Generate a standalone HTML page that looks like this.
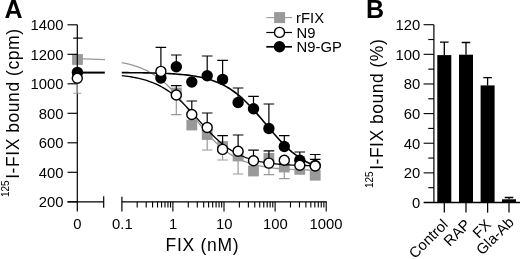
<!DOCTYPE html>
<html><head><meta charset="utf-8"><title>Figure</title>
<style>html,body{margin:0;padding:0;background:#fff}svg{display:block;filter:blur(0.3px)}</style></head>
<body><svg width="520" height="259" viewBox="0 0 520 259">
<rect width="520" height="259" fill="#fff"/>
<path d="M77.3,58.6 L105,59.6" stroke="#999999" stroke-width="1.1" fill="none"/>
<path d="M121.8,62.68 L123.8,63.06 L125.8,63.47 L127.8,63.92 L129.8,64.41 L131.8,64.94 L133.8,65.52 L135.8,66.15 L137.8,66.83 L139.8,67.56 L141.8,68.36 L143.8,69.22 L145.8,70.15 L147.8,71.14 L149.8,72.22 L151.8,73.37 L153.8,74.60 L155.8,75.92 L157.8,77.32 L159.8,78.82 L161.8,80.41 L163.8,82.09 L165.8,83.86 L167.8,85.72 L169.8,87.68 L171.8,89.73 L173.8,91.86 L175.8,94.08 L177.8,96.37 L179.8,98.73 L181.8,101.16 L183.8,103.64 L185.8,106.17 L187.8,108.73 L189.8,111.31 L191.8,113.92 L193.8,116.52 L195.8,119.12 L197.8,121.69 L199.8,124.24 L201.8,126.74 L203.8,129.20 L205.8,131.59 L207.8,133.92 L209.8,136.18 L211.8,138.35 L213.8,140.45 L215.8,142.45 L217.8,144.36 L219.8,146.18 L221.8,147.91 L223.8,149.54 L225.8,151.09 L227.8,152.54 L229.8,153.90 L231.8,155.17 L233.8,156.37 L235.8,157.48 L237.8,158.51 L239.8,159.48 L241.8,160.37 L243.8,161.20 L245.8,161.96 L247.8,162.67 L249.8,163.33 L251.8,163.93 L253.8,164.48 L255.8,165.00 L257.8,165.46 L259.8,165.90 L261.8,166.29 L263.8,166.66 L265.8,166.99 L267.8,167.30 L269.8,167.58 L271.8,167.83 L273.8,168.07 L275.8,168.28 L277.8,168.48 L279.8,168.66 L281.8,168.82 L283.8,168.97 L285.8,169.11 L287.8,169.23 L289.8,169.35 L291.8,169.45 L293.8,169.55 L295.8,169.63 L297.8,169.71 L299.8,169.78 L301.8,169.85 L303.8,169.91 L305.8,169.97 L307.8,170.02 L309.8,170.06 L311.8,170.10 L313.8,170.14 L315.8,170.17 L317.8,170.21" stroke="#999999" stroke-width="1.3" fill="none"/>
<rect x="72.1" y="54.1" width="10.8" height="10.8" fill="#999999"/>
<path d="M176.3,93.0 V114.7 M171.1,114.7 H181.5" stroke="#999999" stroke-width="1.2" fill="none"/>
<rect x="170.9" y="87.6" width="10.8" height="10.8" fill="#999999"/>
<rect x="186.4" y="119.6" width="10.8" height="10.8" fill="#999999"/>
<path d="M207.2,134.5 V150.0 M202.0,150.0 H212.4" stroke="#999999" stroke-width="1.2" fill="none"/>
<rect x="201.8" y="129.1" width="10.8" height="10.8" fill="#999999"/>
<path d="M222.6,146.5 V160.0 M217.4,160.0 H227.8" stroke="#999999" stroke-width="1.2" fill="none"/>
<rect x="217.2" y="141.1" width="10.8" height="10.8" fill="#999999"/>
<path d="M238.1,156.0 V174.0 M232.9,174.0 H243.2" stroke="#999999" stroke-width="1.2" fill="none"/>
<rect x="232.7" y="150.6" width="10.8" height="10.8" fill="#999999"/>
<rect x="248.1" y="165.6" width="10.8" height="10.8" fill="#999999"/>
<path d="M268.9,158.4 V174.7 M263.7,174.7 H274.1" stroke="#999999" stroke-width="1.2" fill="none"/>
<rect x="263.5" y="153.0" width="10.8" height="10.8" fill="#999999"/>
<path d="M284.3,167.0 V178.6 M279.1,178.6 H289.5" stroke="#999999" stroke-width="1.2" fill="none"/>
<rect x="278.9" y="161.6" width="10.8" height="10.8" fill="#999999"/>
<rect x="294.4" y="164.0" width="10.8" height="10.8" fill="#999999"/>
<rect x="309.8" y="169.8" width="10.8" height="10.8" fill="#999999"/>
<path d="M77.3,24.8 V211.5 M67.5,201.8 H103.7 M103.7,196.2 V207.8 M121.9,201.8 H326.8 M121.9,196.8 V211.5" stroke="#000" stroke-width="1.2" fill="none"/>
<path d="M67.5,24.80 H77.3" stroke="#000" stroke-width="1.15"/>
<text x="63.4" y="30.2" font-size="14.8" text-anchor="end" font-family="Liberation Sans, Arial, sans-serif">1400</text>
<path d="M67.5,54.30 H77.3" stroke="#000" stroke-width="1.15"/>
<text x="63.4" y="59.7" font-size="14.8" text-anchor="end" font-family="Liberation Sans, Arial, sans-serif">1200</text>
<path d="M67.5,83.80 H77.3" stroke="#000" stroke-width="1.15"/>
<text x="63.4" y="89.2" font-size="14.8" text-anchor="end" font-family="Liberation Sans, Arial, sans-serif">1000</text>
<path d="M67.5,113.30 H77.3" stroke="#000" stroke-width="1.15"/>
<text x="63.4" y="118.7" font-size="14.8" text-anchor="end" font-family="Liberation Sans, Arial, sans-serif">800</text>
<path d="M67.5,142.80 H77.3" stroke="#000" stroke-width="1.15"/>
<text x="63.4" y="148.2" font-size="14.8" text-anchor="end" font-family="Liberation Sans, Arial, sans-serif">600</text>
<path d="M67.5,172.30 H77.3" stroke="#000" stroke-width="1.15"/>
<text x="63.4" y="177.7" font-size="14.8" text-anchor="end" font-family="Liberation Sans, Arial, sans-serif">400</text>
<path d="M67.5,201.80 H77.3" stroke="#000" stroke-width="1.15"/>
<text x="63.4" y="207.2" font-size="14.8" text-anchor="end" font-family="Liberation Sans, Arial, sans-serif">200</text>
<path d="M137.18,201.8 V207.4 M146.18,201.8 V207.4 M152.57,201.8 V207.4 M157.52,201.8 V207.4 M161.56,201.8 V207.4 M164.98,201.8 V207.4 M167.95,201.8 V207.4 M170.56,201.8 V207.4 M172.90,201.8 V211.5 M188.28,201.8 V207.4 M197.28,201.8 V207.4 M203.67,201.8 V207.4 M208.62,201.8 V207.4 M212.66,201.8 V207.4 M216.08,201.8 V207.4 M219.05,201.8 V207.4 M221.66,201.8 V207.4 M224.00,201.8 V211.5 M239.38,201.8 V207.4 M248.38,201.8 V207.4 M254.77,201.8 V207.4 M259.72,201.8 V207.4 M263.76,201.8 V207.4 M267.18,201.8 V207.4 M270.15,201.8 V207.4 M272.76,201.8 V207.4 M275.10,201.8 V211.5 M290.48,201.8 V207.4 M299.48,201.8 V207.4 M305.87,201.8 V207.4 M310.82,201.8 V207.4 M314.86,201.8 V207.4 M318.28,201.8 V207.4 M321.25,201.8 V207.4 M323.86,201.8 V207.4 M326.20,201.8 V211.5" stroke="#000" stroke-width="1.1" fill="none"/>
<text x="77.3" y="229.2" font-size="14.8" text-anchor="middle" font-family="Liberation Sans, Arial, sans-serif">0</text>
<text x="122.4" y="229.2" font-size="14.8" text-anchor="middle" font-family="Liberation Sans, Arial, sans-serif">0.1</text>
<text x="173.1" y="229.2" font-size="14.8" text-anchor="middle" font-family="Liberation Sans, Arial, sans-serif">1</text>
<text x="224.3" y="229.2" font-size="14.8" text-anchor="middle" font-family="Liberation Sans, Arial, sans-serif">10</text>
<text x="275.3" y="229.2" font-size="14.8" text-anchor="middle" font-family="Liberation Sans, Arial, sans-serif">100</text>
<text x="326" y="229.2" font-size="14.8" text-anchor="middle" font-family="Liberation Sans, Arial, sans-serif">1000</text>
<text x="165.6" y="250.7" font-size="17.5" letter-spacing="0.7" font-family="Liberation Sans, Arial, sans-serif">FIX (nM)</text>
<text transform="translate(19.2,197) rotate(-90)" font-size="17.5" font-family="Liberation Sans, Arial, sans-serif"><tspan font-size="10" dy="-10.3">125</tspan><tspan dy="10.3" dx="1.5" letter-spacing="0.55">I-FIX bound (cpm)</tspan></text>
<text x="4.6" y="18.4" font-size="25" font-weight="bold" font-family="Liberation Sans, Arial, sans-serif">A</text>
<path d="M77.3,72.6 H104.8" stroke="#000" stroke-width="2" fill="none"/>
<path d="M121.8,72.62 L123.8,72.64 L125.8,72.65 L127.8,72.67 L129.8,72.68 L131.8,72.70 L133.8,72.72 L135.8,72.74 L137.8,72.76 L139.8,72.79 L141.8,72.82 L143.8,72.85 L145.8,72.88 L147.8,72.92 L149.8,72.96 L151.8,73.00 L153.8,73.05 L155.8,73.11 L157.8,73.17 L159.8,73.23 L161.8,73.30 L163.8,73.38 L165.8,73.47 L167.8,73.56 L169.8,73.66 L171.8,73.77 L173.8,73.90 L175.8,74.03 L177.8,74.18 L179.8,74.34 L181.8,74.52 L183.8,74.71 L185.8,74.92 L187.8,75.15 L189.8,75.41 L191.8,75.68 L193.8,75.98 L195.8,76.31 L197.8,76.67 L199.8,77.06 L201.8,77.48 L203.8,77.94 L205.8,78.45 L207.8,78.99 L209.8,79.58 L211.8,80.22 L213.8,80.92 L215.8,81.67 L217.8,82.48 L219.8,83.35 L221.8,84.29 L223.8,85.30 L225.8,86.38 L227.8,87.54 L229.8,88.78 L231.8,90.10 L233.8,91.50 L235.8,92.99 L237.8,94.57 L239.8,96.23 L241.8,97.97 L243.8,99.80 L245.8,101.71 L247.8,103.70 L249.8,105.76 L251.8,107.89 L253.8,110.09 L255.8,112.34 L257.8,114.63 L259.8,116.97 L261.8,119.33 L263.8,121.72 L265.8,124.11 L267.8,126.50 L269.8,128.88 L271.8,131.23 L273.8,133.56 L275.8,135.84 L277.8,138.08 L279.8,140.25 L281.8,142.36 L283.8,144.40 L285.8,146.37 L287.8,148.26 L289.8,150.06 L291.8,151.78 L293.8,153.41 L295.8,154.96 L297.8,156.43 L299.8,157.80 L301.8,159.10 L303.8,160.31 L305.8,161.45 L307.8,162.51 L309.8,163.50 L311.8,164.42 L313.8,165.27 L315.8,166.06 L317.8,166.80" stroke="#000" stroke-width="1.6" fill="none"/>
<path d="M73.2,38.1 H82.6" stroke="#000" stroke-width="1.2" fill="none"/>
<circle cx="77.4" cy="72.4" r="5.7" fill="#000"/>
<circle cx="160.9" cy="78.0" r="5.7" fill="#000"/>
<path d="M176.3,66.8 V55.0 M171.0,55.0 H181.6" stroke="#000" stroke-width="1.2" fill="none"/>
<circle cx="176.3" cy="66.8" r="5.7" fill="#000"/>
<circle cx="191.8" cy="82.0" r="5.7" fill="#000"/>
<path d="M207.2,75.8 V56.0 M201.9,56.0 H212.5" stroke="#000" stroke-width="1.2" fill="none"/>
<circle cx="207.2" cy="75.8" r="5.7" fill="#000"/>
<path d="M222.6,79.4 V60.3 M217.3,60.3 H227.9" stroke="#000" stroke-width="1.2" fill="none"/>
<circle cx="222.6" cy="79.4" r="5.7" fill="#000"/>
<path d="M238.1,102.5 V88.0 M232.8,88.0 H243.4" stroke="#000" stroke-width="1.2" fill="none"/>
<circle cx="238.1" cy="102.5" r="5.7" fill="#000"/>
<path d="M253.5,108.8 V96.3 M248.2,96.3 H258.8" stroke="#000" stroke-width="1.2" fill="none"/>
<circle cx="253.5" cy="108.8" r="5.7" fill="#000"/>
<path d="M268.9,128.5 V104.0 M263.6,104.0 H274.2" stroke="#000" stroke-width="1.2" fill="none"/>
<circle cx="268.9" cy="128.5" r="5.7" fill="#000"/>
<path d="M284.3,146.5 V135.6 M279.0,135.6 H289.6" stroke="#000" stroke-width="1.2" fill="none"/>
<circle cx="284.3" cy="146.5" r="5.7" fill="#000"/>
<path d="M299.8,160.3 V152.0 M294.5,152.0 H305.1" stroke="#000" stroke-width="1.2" fill="none"/>
<circle cx="299.8" cy="160.3" r="5.7" fill="#000"/>
<path d="M315.2,165.5 V154.5 M309.9,154.5 H320.5" stroke="#000" stroke-width="1.2" fill="none"/>
<circle cx="315.2" cy="165.5" r="5.7" fill="#000"/>
<path d="M121.8,75.67 L123.8,75.89 L125.8,76.14 L127.8,76.40 L129.8,76.69 L131.8,77.01 L133.8,77.36 L135.8,77.74 L137.8,78.15 L139.8,78.60 L141.8,79.09 L143.8,79.63 L145.8,80.21 L147.8,80.84 L149.8,81.53 L151.8,82.27 L153.8,83.07 L155.8,83.94 L157.8,84.87 L159.8,85.88 L161.8,86.96 L163.8,88.11 L165.8,89.35 L167.8,90.66 L169.8,92.06 L171.8,93.54 L173.8,95.10 L175.8,96.74 L177.8,98.47 L179.8,100.27 L181.8,102.15 L183.8,104.10 L185.8,106.12 L187.8,108.19 L189.8,110.31 L191.8,112.48 L193.8,114.68 L195.8,116.90 L197.8,119.13 L199.8,121.37 L201.8,123.60 L203.8,125.81 L205.8,127.99 L207.8,130.14 L209.8,132.24 L211.8,134.29 L213.8,136.27 L215.8,138.19 L217.8,140.03 L219.8,141.80 L221.8,143.49 L223.8,145.10 L225.8,146.62 L227.8,148.07 L229.8,149.42 L231.8,150.70 L233.8,151.90 L235.8,153.02 L237.8,154.06 L239.8,155.03 L241.8,155.94 L243.8,156.77 L245.8,157.55 L247.8,158.26 L249.8,158.93 L251.8,159.53 L253.8,160.09 L255.8,160.61 L257.8,161.08 L259.8,161.52 L261.8,161.91 L263.8,162.28 L265.8,162.61 L267.8,162.92 L269.8,163.19 L271.8,163.45 L273.8,163.68 L275.8,163.89 L277.8,164.08 L279.8,164.26 L281.8,164.42 L283.8,164.57 L285.8,164.70 L287.8,164.82 L289.8,164.93 L291.8,165.03 L293.8,165.12 L295.8,165.20 L297.8,165.28 L299.8,165.35 L301.8,165.41 L303.8,165.47 L305.8,165.52 L307.8,165.57 L309.8,165.61 L311.8,165.65 L313.8,165.68 L315.8,165.71 L317.8,165.74" stroke="#000" stroke-width="1.3" fill="none"/>
<path d="M77.3,78.3 V93.2 M73.3,93.2 H81.3" stroke="#999999" stroke-width="1.1" fill="none"/>
<circle cx="77.3" cy="78.3" r="5.0" fill="#fff" stroke="#000" stroke-width="1.4"/>
<path d="M160.9,71.4 V47.4 M155.6,47.4 H166.2" stroke="#000" stroke-width="1.2" fill="none"/>
<circle cx="160.9" cy="71.4" r="5.0" fill="#fff" stroke="#000" stroke-width="1.4"/>
<path d="M176.3,95.0 V85.7 M171.0,85.7 H181.6" stroke="#000" stroke-width="1.2" fill="none"/>
<circle cx="176.3" cy="95.0" r="5.0" fill="#fff" stroke="#000" stroke-width="1.4"/>
<path d="M191.8,114.5 V101.0 M186.5,101.0 H197.1" stroke="#000" stroke-width="1.2" fill="none"/>
<circle cx="191.8" cy="114.5" r="5.0" fill="#fff" stroke="#000" stroke-width="1.4"/>
<path d="M207.2,127.5 V113.0 M201.9,113.0 H212.5" stroke="#000" stroke-width="1.2" fill="none"/>
<circle cx="207.2" cy="127.5" r="5.0" fill="#fff" stroke="#000" stroke-width="1.4"/>
<path d="M222.6,149.4 V135.6 M217.3,135.6 H227.9" stroke="#000" stroke-width="1.2" fill="none"/>
<circle cx="222.6" cy="149.4" r="5.0" fill="#fff" stroke="#000" stroke-width="1.4"/>
<path d="M238.1,151.2 V135.0 M232.8,135.0 H243.4" stroke="#000" stroke-width="1.2" fill="none"/>
<circle cx="238.1" cy="151.2" r="5.0" fill="#fff" stroke="#000" stroke-width="1.4"/>
<path d="M253.5,160.8 V150.2 M248.2,150.2 H258.8" stroke="#000" stroke-width="1.2" fill="none"/>
<circle cx="253.5" cy="160.8" r="5.0" fill="#fff" stroke="#000" stroke-width="1.4"/>
<path d="M268.9,163.1 V150.8 M263.6,150.8 H274.2" stroke="#000" stroke-width="1.2" fill="none"/>
<circle cx="268.9" cy="163.1" r="5.0" fill="#fff" stroke="#000" stroke-width="1.4"/>
<circle cx="284.3" cy="160.2" r="5.0" fill="#fff" stroke="#000" stroke-width="1.4"/>
<circle cx="299.8" cy="165.3" r="5.0" fill="#fff" stroke="#000" stroke-width="1.4"/>
<path d="M315.2,166.0 V159.3 M309.9,159.3 H320.5" stroke="#000" stroke-width="1.2" fill="none"/>
<circle cx="315.2" cy="166.0" r="5.0" fill="#fff" stroke="#000" stroke-width="1.4"/>
<path d="M266.3,17.6 H292" stroke="#999999" stroke-width="1.1"/><rect x="274.1" y="12.1" width="11" height="11" fill="#999999"/>
<path d="M266.3,32.5 H292" stroke="#000" stroke-width="1.2"/><circle cx="279.5" cy="32.4" r="5.0" fill="#fff" stroke="#000" stroke-width="1.4"/>
<path d="M266.3,46.8 H292" stroke="#000" stroke-width="1.7"/><circle cx="279.5" cy="46.8" r="5.7" fill="#000"/>
<text x="296.1" y="22.9" font-size="14.8" font-family="Liberation Sans, Arial, sans-serif">rFIX</text>
<text x="296.6" y="37.5" font-size="14.8" font-family="Liberation Sans, Arial, sans-serif">N9</text>
<text x="296.6" y="52.4" font-size="14.8" font-family="Liberation Sans, Arial, sans-serif">N9-GP</text>
<text x="366.0" y="18.4" font-size="25" font-weight="bold" font-family="Liberation Sans, Arial, sans-serif">B</text>
<path d="M444.3,55.1 V42.2 M440.0,42.2 H448.6" stroke="#000" stroke-width="1.3" fill="none"/>
<rect x="437.3" y="55.1" width="14" height="147.4" fill="#000"/>
<path d="M444.3,202.5 V212.6" stroke="#000" stroke-width="1.25"/>
<path d="M466.0,54.7 V42.5 M461.7,42.5 H470.3" stroke="#000" stroke-width="1.3" fill="none"/>
<rect x="459.0" y="54.7" width="14" height="147.8" fill="#000"/>
<path d="M466.0,202.5 V212.6" stroke="#000" stroke-width="1.25"/>
<path d="M487.6,85.4 V77.6 M483.3,77.6 H491.9" stroke="#000" stroke-width="1.3" fill="none"/>
<rect x="480.6" y="85.4" width="14" height="117.1" fill="#000"/>
<path d="M487.6,202.5 V212.6" stroke="#000" stroke-width="1.25"/>
<path d="M509.0,199.3 V197.5 M504.7,197.5 H513.3" stroke="#000" stroke-width="1.3" fill="none"/>
<rect x="502.0" y="199.3" width="14" height="3.2" fill="#000"/>
<path d="M509.0,202.5 V212.6" stroke="#000" stroke-width="1.25"/>
<path d="M433.9,24.7 V202.5" stroke="#000" stroke-width="1.2" fill="none"/>
<path d="M423.6,202.5 H520" stroke="#000" stroke-width="1.55" fill="none"/>
<path d="M423.6,24.70 H433.9" stroke="#000" stroke-width="1.1"/>
<path d="M428.3,39.52 H433.9" stroke="#000" stroke-width="1.15"/>
<text x="420.2" y="30.1" font-size="14.8" text-anchor="end" font-family="Liberation Sans, Arial, sans-serif">120</text>
<path d="M423.6,54.33 H433.9" stroke="#000" stroke-width="1.1"/>
<path d="M428.3,69.15 H433.9" stroke="#000" stroke-width="1.15"/>
<text x="420.2" y="59.7" font-size="14.8" text-anchor="end" font-family="Liberation Sans, Arial, sans-serif">100</text>
<path d="M423.6,83.97 H433.9" stroke="#000" stroke-width="1.1"/>
<path d="M428.3,98.78 H433.9" stroke="#000" stroke-width="1.15"/>
<text x="420.2" y="89.4" font-size="14.8" text-anchor="end" font-family="Liberation Sans, Arial, sans-serif">80</text>
<path d="M423.6,113.60 H433.9" stroke="#000" stroke-width="1.1"/>
<path d="M428.3,128.42 H433.9" stroke="#000" stroke-width="1.15"/>
<text x="420.2" y="119.0" font-size="14.8" text-anchor="end" font-family="Liberation Sans, Arial, sans-serif">60</text>
<path d="M423.6,143.23 H433.9" stroke="#000" stroke-width="1.1"/>
<path d="M428.3,158.05 H433.9" stroke="#000" stroke-width="1.15"/>
<text x="420.2" y="148.6" font-size="14.8" text-anchor="end" font-family="Liberation Sans, Arial, sans-serif">40</text>
<path d="M423.6,172.87 H433.9" stroke="#000" stroke-width="1.1"/>
<path d="M428.3,187.68 H433.9" stroke="#000" stroke-width="1.15"/>
<text x="420.2" y="178.3" font-size="14.8" text-anchor="end" font-family="Liberation Sans, Arial, sans-serif">20</text>
<text x="420.2" y="207.9" font-size="14.8" text-anchor="end" font-family="Liberation Sans, Arial, sans-serif">0</text>
<text transform="translate(382.9,188) rotate(-90)" font-size="17.5" font-family="Liberation Sans, Arial, sans-serif"><tspan font-size="10" dy="-10.3">125</tspan><tspan dy="10.3" dx="1.5" letter-spacing="0.5">I-FIX bound (%)</tspan></text>
<text transform="translate(448.8,225.5) rotate(-45)" font-size="14.8" text-anchor="end" font-family="Liberation Sans, Arial, sans-serif">Control</text>
<text transform="translate(471.3,225.5) rotate(-45)" font-size="14.8" text-anchor="end" font-family="Liberation Sans, Arial, sans-serif">RAP</text>
<text transform="translate(492.1,225.5) rotate(-45)" font-size="14.8" text-anchor="end" font-family="Liberation Sans, Arial, sans-serif">FX</text>
<text transform="translate(514.8,223.2) rotate(-45)" font-size="14.8" text-anchor="end" font-family="Liberation Sans, Arial, sans-serif">Gla-Ab</text>
</svg></body></html>
